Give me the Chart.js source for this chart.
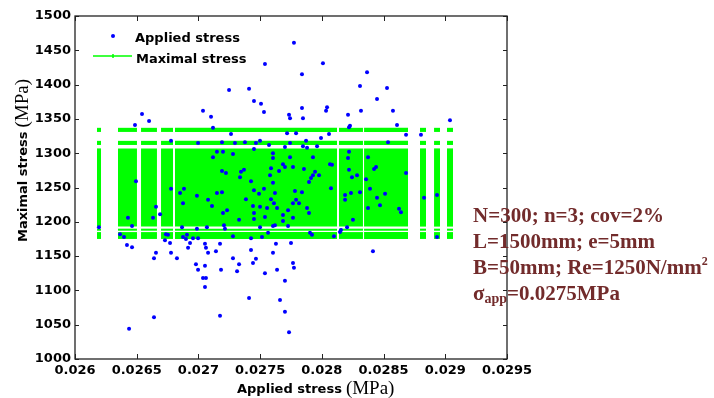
<!DOCTYPE html>
<html>
<head>
<meta charset="utf-8">
<script src="https://cdn.jsdelivr.net/npm/chart.js@4.4.0/dist/chart.umd.min.js"></script>
<style>
  body { margin: 0; background: #fff; }
  #wrap { position: relative; width: 714px; height: 398px; }
  #note {
    position: absolute; left: 473px; top: 202px;
    font-family: "Liberation Serif", "Times New Roman", serif;
    font-weight: bold; font-size: 21px; line-height: 26px;
    color: #722b2b; white-space: nowrap;
  }
  #note sup { font-size: 12px; vertical-align: 9px; line-height: 0; }
  #note sub { font-size: 14px; vertical-align: -3px; line-height: 0; }
</style>
</head>
<body>
<div id="wrap">
  <canvas id="chart" width="714" height="398"></canvas>
  <div id="note">
    <div>N=300; n=3; cov=2%</div>
    <div>L=1500mm; e=5mm</div>
    <div>B=50mm; Re=1250N/mm<sup>2</sup></div>
    <div>σ<sub>app</sub>=0.0275MPa</div>
  </div>
</div>
<script>
const xTickValues = [0.026, 0.0265, 0.027, 0.0275, 0.028, 0.0285, 0.029, 0.0295];
const xTickLabels = ["0.026", "0.0265", "0.027", "0.0275", "0.028", "0.0285", "0.029", "0.0295"];
const yTickValues = [1000, 1050, 1100, 1150, 1200, 1250, 1300, 1350, 1400, 1450, 1500];

// applied stress samples (x) against maximal stress (y)
const appliedX = [
  0.027774, 0.027539, 0.028009, 0.027839, 0.028366, 0.027248, 0.027410, 0.028309, 0.028528, 0.027450,
  0.027507, 0.028447, 0.027037, 0.027102, 0.027531, 0.027734, 0.027839, 0.027847, 0.028042, 0.028034,
  0.028212, 0.028317, 0.028576, 0.026543, 0.026600, 0.026486, 0.029038, 0.028609, 0.028228, 0.027118,
  0.027742,
  0.027264, 0.026778, 0.026997, 0.027191, 0.027296, 0.027377, 0.027466, 0.027499, 0.027572, 0.027150,
  0.027199, 0.027280, 0.027118, 0.027450, 0.027604, 0.027604, 0.027191, 0.027223, 0.027345, 0.027337,
  0.027369, 0.027426, 0.027588, 0.027580, 0.026494, 0.027604, 0.026778, 0.026851, 0.026988, 0.026883,
  0.027150, 0.027191, 0.027450, 0.027491, 0.027531, 0.026875, 0.027078, 0.027385, 0.027588, 0.027110,
  0.027442, 0.027499, 0.027556, 0.026656, 0.026689, 0.026632, 0.027199, 0.027232, 0.027329, 0.027450,
  0.027450, 0.027539, 0.026429, 0.026194, 0.026462, 0.026867, 0.026988, 0.027069, 0.027207, 0.027215,
  0.027499, 0.027620, 0.026365, 0.026397, 0.026753, 0.026907, 0.026875, 0.026956, 0.026997, 0.027280,
  0.027426, 0.027515, 0.027564,
  0.028220, 0.027718, 0.027791, 0.028058, 0.028682, 0.028803, 0.027993, 0.027872, 0.027701, 0.027742,
  0.027847, 0.027880, 0.027961, 0.028536,
  0.027742, 0.027928, 0.028220, 0.028212, 0.027685, 0.027701, 0.027766, 0.027855, 0.028066, 0.028082,
  0.027653, 0.028220, 0.028439, 0.028423, 0.028682, 0.027945, 0.027928, 0.027977, 0.027912, 0.027896,
  0.028244, 0.028285, 0.028358, 0.028074, 0.027620, 0.027782, 0.027839, 0.028236, 0.028309, 0.028188,
  0.028390, 0.028512, 0.028933, 0.028828, 0.028188, 0.027791, 0.027815, 0.027766, 0.027612, 0.028447,
  0.028471, 0.027637, 0.027726, 0.027880, 0.027896, 0.027685, 0.027766, 0.027685, 0.028374, 0.028625,
  0.028641, 0.028252, 0.028204, 0.028155, 0.027726, 0.027604, 0.027904, 0.027920, 0.028098, 0.028933,
  0.028374,
  0.026737, 0.028147, 0.026421, 0.026462, 0.026770, 0.026729, 0.026899, 0.026932,
  0.027053, 0.027175, 0.027628, 0.027750, 0.027426, 0.027604, 0.028414, 0.026640, 0.026656, 0.026778,
  0.026826, 0.026916, 0.027061, 0.027078, 0.027142, 0.027280, 0.027329, 0.027313, 0.027442, 0.027466,
  0.026980, 0.026997, 0.027053, 0.027183, 0.027539, 0.027637, 0.027766, 0.027774, 0.027701, 0.027037,
  0.027061, 0.027053, 0.027410, 0.027661, 0.027701, 0.026640, 0.027175, 0.026438, 0.027734
];
const appliedY = [
  1461, 1430, 1431, 1415, 1418, 1392, 1394, 1398, 1395, 1376,
  1372, 1379, 1362, 1353, 1360, 1356, 1366, 1351, 1367, 1362,
  1356, 1362, 1362, 1357, 1347, 1341, 1348, 1341, 1340, 1337,
  1351,
  1328, 1318, 1315, 1316, 1315, 1316, 1315, 1318, 1312, 1302,
  1302, 1299, 1294, 1306, 1300, 1293, 1274, 1271, 1273, 1265,
  1276, 1259, 1278, 1268, 1259, 1257, 1248, 1242, 1238, 1248,
  1242, 1243, 1246, 1241, 1248, 1227, 1232, 1233, 1233, 1223,
  1223, 1222, 1220, 1222, 1211, 1206, 1213, 1217, 1203, 1213,
  1204, 1207, 1206, 1192, 1194, 1192, 1190, 1192, 1195, 1190,
  1192, 1195, 1182, 1178, 1181, 1181, 1178, 1176, 1176, 1179,
  1176, 1178, 1184,
  1338, 1329, 1329, 1328, 1327, 1327, 1322, 1318, 1309, 1315,
  1310, 1308, 1310, 1316,
  1294, 1294, 1302, 1293, 1284, 1280, 1280, 1277, 1284, 1283,
  1274, 1276, 1280, 1277, 1271, 1273, 1268, 1268, 1264, 1258,
  1265, 1268, 1262, 1249, 1242, 1245, 1243, 1242, 1243, 1239,
  1248, 1241, 1239, 1235, 1232, 1232, 1227, 1227, 1227, 1235,
  1224, 1220, 1217, 1220, 1213, 1210, 1206, 1201, 1220, 1219,
  1214, 1203, 1192, 1188, 1194, 1194, 1184, 1181, 1179, 1178,
  1294,
  1182, 1185, 1166, 1163, 1169, 1173, 1175, 1169,
  1168, 1168, 1168, 1169, 1159, 1155, 1157, 1147, 1155, 1155,
  1147, 1162, 1162, 1155, 1157, 1147, 1138, 1128, 1140, 1146,
  1138, 1130, 1136, 1130, 1125, 1130, 1140, 1133, 1114, 1118,
  1118, 1105, 1089, 1086, 1069, 1061, 1063, 1044, 1039
];

// maximal stress cloud: vertical stripes (x ranges) times horizontal bands (y ranges)
const stripeFrom = [0.026178, 0.026348, 0.026535, 0.026697, 0.026810, 0.028139, 0.028342, 0.028795, 0.028909, 0.029014];
const stripeTo   = [0.026211, 0.026502, 0.026664, 0.026794, 0.028123, 0.028333, 0.028698, 0.028844, 0.028957, 0.029063];
const bandLow  = [1175, 1187, 1193, 1312, 1331];
const bandHigh = [1185, 1190, 1307, 1318, 1337];

const tickFont = { family: "DejaVu Sans", weight: "bold", size: 13 };

const datasets = [{
  label: "Applied stress",
  type: "scatter",
  data: appliedX.map((x, i) => ({ x: x, y: appliedY[i] })),
  backgroundColor: "#0000ff",
  borderWidth: 0,
  pointRadius: 2,
  order: 0
}];

stripeFrom.forEach((from, i) => {
  bandLow.forEach((low, j) => {
    datasets.push({
      label: "Maximal stress",
      type: "line",
      data: [{ x: from, y: bandHigh[j] }, { x: stripeTo[i], y: bandHigh[j] }],
      borderColor: "rgba(0,0,0,0)",
      borderWidth: 0,
      pointRadius: 0,
      fill: { value: low },
      backgroundColor: "#00ff00",
      order: 1
    });
  });
});

function drawMixedTitle(ctx, sans, serif) {
  ctx.font = "bold 13px 'DejaVu Sans'";
  ctx.fillText(sans, 0, 0);
  const w = ctx.measureText(sans).width;
  ctx.font = "19px 'Liberation Serif'";
  ctx.fillText("(" + serif + ")", w + 4, 1);
}

const framePlugin = {
  id: "frame",
  afterDraw(chart) {
    const { ctx, chartArea: a, scales } = chart;
    ctx.save();
    ctx.strokeStyle = "#222";
    ctx.lineWidth = 1.3;
    ctx.strokeRect(a.left, a.top, a.right - a.left, a.bottom - a.top);

    ctx.beginPath();
    xTickValues.forEach(v => {
      const px = Math.round(scales.x.getPixelForValue(v)) + 0.5;
      ctx.moveTo(px, a.bottom); ctx.lineTo(px, a.bottom - 5);
      ctx.moveTo(px, a.top); ctx.lineTo(px, a.top + 5);
    });
    yTickValues.forEach(v => {
      const py = Math.round(scales.y.getPixelForValue(v)) + 0.5;
      ctx.moveTo(a.left, py); ctx.lineTo(a.left + 4, py);
      ctx.moveTo(a.right, py); ctx.lineTo(a.right - 4, py);
    });
    ctx.lineWidth = 1;
    ctx.stroke();

    // axis titles
    ctx.fillStyle = "#000";
    ctx.textBaseline = "alphabetic";
    ctx.save();
    ctx.translate(237, 393);
    drawMixedTitle(ctx, "Applied stress", "MPa");
    ctx.restore();
    ctx.save();
    ctx.translate(27, 242);
    ctx.rotate(-Math.PI / 2);
    drawMixedTitle(ctx, "Maximal stress", "MPa");
    ctx.restore();

    // legend
    ctx.font = "bold 13px 'DejaVu Sans'";
    ctx.fillStyle = "#0000ff";
    ctx.beginPath();
    ctx.arc(113, 36, 2, 0, Math.PI * 2);
    ctx.fill();
    ctx.fillStyle = "#000";
    ctx.fillText("Applied stress", 135, 42);

    ctx.strokeStyle = "#00ff00";
    ctx.lineWidth = 1.5;
    ctx.beginPath();
    ctx.moveTo(93, 56); ctx.lineTo(132, 56);
    ctx.moveTo(113, 54); ctx.lineTo(113, 58);
    ctx.stroke();
    ctx.fillText("Maximal stress", 136, 63);
    ctx.restore();
  }
};

new Chart(document.getElementById("chart"), {
  type: "scatter",
  data: { datasets: datasets },
  options: {
    responsive: false,
    animation: false,
    events: [],
    layout: { padding: { left: 0, right: 207, top: 16, bottom: 0 } },
    plugins: {
      legend: { display: false },
      tooltip: { enabled: false }
    },
    scales: {
      x: {
        type: "linear",
        min: 0.026,
        max: 0.0295,
        afterBuildTicks: s => { s.ticks = xTickValues.map(v => ({ value: v })); },
        afterFit: s => { s.height = 39; },
        grid: { display: false, drawTicks: false },
        border: { display: false },
        ticks: {
          callback: (v, i) => xTickLabels[i],
          font: tickFont,
          color: "#000",
          padding: 4,
          maxRotation: 0,
          autoSkip: false
        }
      },
      y: {
        type: "linear",
        min: 1000,
        max: 1500,
        afterBuildTicks: s => { s.ticks = yTickValues.map(v => ({ value: v })); },
        afterFit: s => { s.width = 75; },
        grid: { display: false, drawTicks: false },
        border: { display: false },
        ticks: {
          callback: v => String(v),
          font: tickFont,
          color: "#000",
          padding: 4,
          autoSkip: false
        }
      }
    }
  },
  plugins: [framePlugin]
});
</script>
</body>
</html>
